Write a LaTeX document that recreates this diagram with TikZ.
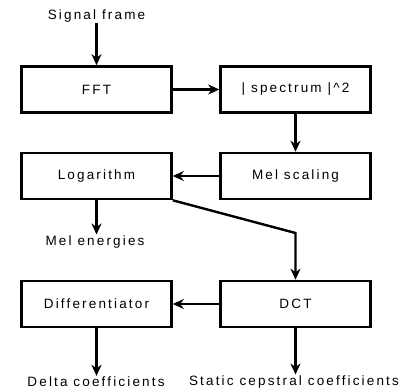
\documentclass[tikz,border=0pt]{standalone}
\usepackage{fontspec}
\setmainfont{Liberation Sans}[LetterSpace=16]
\usetikzlibrary{positioning,arrows.meta}

\begin{document}
\begin{tikzpicture}[x=1pt, y=-1pt,
      procbox/.style={draw, line width=2.6pt, minimum width=150pt, minimum height=46pt, inner sep=0pt, font=\fontsize{13.5}{16}\selectfont},
      label/.style={inner sep=1pt, font=\fontsize{13.5}{16}\selectfont},
      arrow/.style={-{Stealth[length=11pt, width=10pt, inset=3.5pt]}, line width=2.4pt}
    ]
      \useasboundingbox (0,0) rectangle (401,391);
      \node[label] (sig) at (96.5,16) {Signal frame};
      \node[procbox] (fft) at (96.5,89.5) {FFT};
      \node[procbox] (spec) at (295.5,89.5) {| spectrum |\textasciicircum 2};
      \node[procbox] (mel) at (295.5,176) {Mel scaling};
      \node[procbox] (log) at (96.5,176) {Logarithm};
      \node[label] (mele) at (95,242) {Mel energies};
      \node[procbox] (dct) at (295.5,304) {DCT};
      \node[procbox] (diff) at (96.5,304) {Differentiator};
      \node[label] (delta) at (96,382) {Delta coefficients};
      \node[label] (stat) at (294,382) {Static cepstral coefficients};
      \coordinate (bend) at (295.5,233);
      \draw[arrow] (sig) -- (fft);
      \draw[arrow] (fft) -- (spec);
      \draw[arrow] (spec) -- (mel);
      \draw[arrow] (mel) -- (log);
      \draw[arrow] (log.south) -- (log.south |- mele.north);
      \draw[arrow] (log.south east) -- (bend) -- (dct);
      \draw[arrow] (dct) -- (diff);
      \draw[arrow] (diff.south) -- (diff.south |- delta.north);
      \draw[arrow] (dct.south) -- (dct.south |- stat.north);
    \end{tikzpicture}
\end{document}
